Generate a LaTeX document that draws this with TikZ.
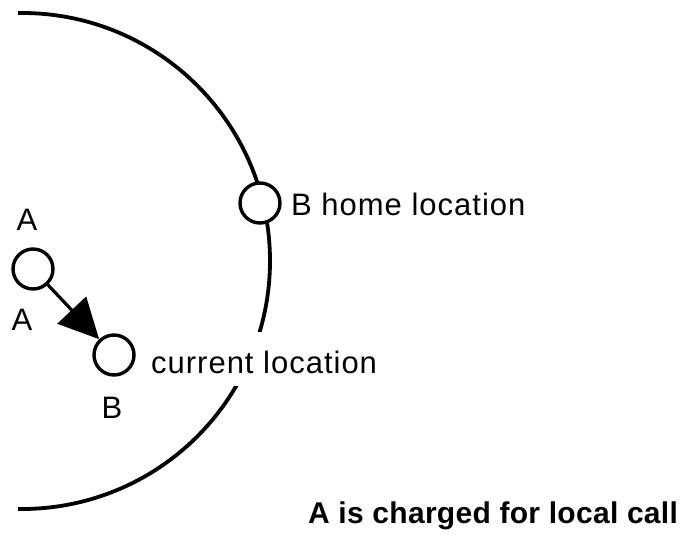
\documentclass[tikz,border=0pt]{standalone}
\usepackage{fontspec}
\usetikzlibrary{arrows.meta}
\newfontfamily\labelfont[LetterSpace=3.2]{Liberation Sans}
\newfontfamily\captionfont[LetterSpace=1.0]{Liberation Sans}
\begin{document}
\begin{tikzpicture}[x=1pt,y=-1pt,
    station/.style={circle,draw,line width=3.4pt,fill=white,minimum size=40pt,inner sep=0pt},
    lbl/.style={inner sep=0pt,font=\labelfont\fontsize{31}{36}\selectfont},
    boundary/.style={line width=3.8pt},
    callarrow/.style={line width=3.2pt,-{Triangle[length=40pt,width=39pt]}}]
  \useasboundingbox (0,0) rectangle (684,535);

  % cell boundary: a large circular arc around the local area
  \coordinate (cellcentre) at (22,261);
  \draw[boundary] (cellcentre) ++(-90.9:248) arc[start angle=-90.9,end angle=90.9,radius=248];

  % stations
  \node[station] (home) at (260,203) {};
  \node[station] (a) at (33,269) {};
  \node[station] (b) at (114,355) {};

  % call from A to B
  \draw[callarrow] (a) -- (b);

  % labels
  \node[lbl,anchor=base] (atop) at (27,230) {A};
  \node[lbl,anchor=base] (abot) at (22,330) {A};
  \node[lbl,anchor=base] (bbot) at (112,418) {B};
  \node[lbl,anchor=base west] (homelbl) at (291,215) {B home location};
  \node[lbl,anchor=base west,fill=white,text height=41pt,text depth=13pt] (curlbl) at (151,373) {current location};
  \node[inner sep=0pt,anchor=base west,font=\captionfont\bfseries\fontsize{30}{36}\selectfont] (caption) at (308,523) {A is charged for local call};
\end{tikzpicture}
\end{document}
